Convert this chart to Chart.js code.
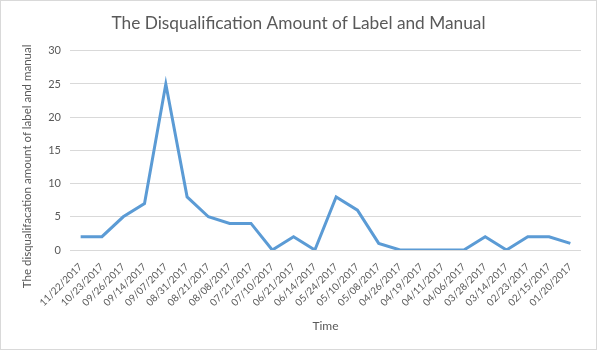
<!DOCTYPE html>
<html>
<head>
<meta charset="utf-8">
<script src="https://cdn.jsdelivr.net/npm/chart.js@4"></script>
<style>
  html, body { margin: 0; padding: 0; background: #fff; }
  #wrap { width: 595px; height: 348px; border: 1px solid #d9d9d9; }
</style>
</head>
<body>
<div id="wrap"><canvas id="chart" width="595" height="348"></canvas></div>
<script>
const dates = [
  "11/22/2017", "10/23/2017", "09/26/2017", "09/14/2017", "09/07/2017", "08/31/2017",
  "08/21/2017", "08/08/2017", "07/21/2017", "07/10/2017", "06/21/2017", "06/14/2017",
  "05/24/2017", "05/10/2017", "05/08/2017", "04/26/2017", "04/19/2017", "04/11/2017",
  "04/06/2017", "03/28/2017", "03/14/2017", "02/23/2017", "02/15/2017", "01/20/2017"
];
const amounts = [2, 2, 5, 7, 25, 8, 5, 4, 4, 0, 2, 0, 8, 6, 1, 0, 0, 0, 0, 2, 0, 2, 2, 1];
const yTicks = [0, 5, 10, 15, 20, 25, 30];

const textColor = "#595959";
const fontFamily = "Lato, 'Open Sans', sans-serif";

// centre the chart title on the whole canvas and push the y-axis title down a bit
const titleTweaks = {
  id: "titleTweaks",
  afterLayout(chart) {
    const t = chart.titleBlock;
    t.left = 0;
    t.right = chart.width;
    t.width = chart.width;

    const y = chart.scales.y;
    if (!y._titleShifted) {
      const drawTitle = y.drawTitle.bind(y);
      y.drawTitle = function () {
        this.top += 16;
        this.bottom += 16;
        drawTitle();
        this.top -= 16;
        this.bottom -= 16;
      };
      y._titleShifted = true;
    }
  }
};

new Chart(document.getElementById("chart"), {
  type: "line",
  data: {
    labels: dates,
    datasets: [{
      data: amounts,
      borderColor: "#5b9bd5",
      borderWidth: 3,
      pointRadius: 0,
      tension: 0,
      fill: false
    }]
  },
  options: {
    responsive: false,
    animation: false,
    layout: { padding: { left: 0, right: 15, top: 12, bottom: 0 } },
    plugins: {
      legend: { display: false },
      tooltip: { enabled: false },
      title: {
        display: true,
        text: "The Disqualification Amount of Label and Manual",
        color: textColor,
        font: { family: fontFamily, size: 17.3, weight: "normal" },
        padding: { top: 0, bottom: 17 }
      }
    },
    scales: {
      x: {
        offset: true,
        grid: { display: false },
        border: { display: false },
        ticks: {
          color: textColor,
          font: { family: fontFamily, size: 10 },
          minRotation: 45,
          maxRotation: 45,
          autoSkip: false,
          padding: 3
        },
        title: {
          display: true,
          text: "Time",
          color: textColor,
          font: { family: fontFamily, size: 12 },
          padding: { top: 4, bottom: 16 }
        },
        afterFit: s => { s.height = 99; }
      },
      y: {
        min: 0,
        max: 30,
        afterBuildTicks: s => { s.ticks = yTicks.map(v => ({ value: v })); },
        grid: { color: "#d9d9d9", lineWidth: 1, drawTicks: false },
        border: { display: false },
        ticks: {
          color: textColor,
          font: { family: fontFamily, size: 11 },
          padding: 9
        },
        title: {
          display: true,
          text: "The disqualifacation amount of label and manual",
          color: textColor,
          font: { family: fontFamily, size: 11.5 },
          padding: { top: 19, bottom: 0 }
        },
        afterFit: s => { s.width = 69; }
      }
    }
  },
  plugins: [titleTweaks]
});
</script>
</body>
</html>
